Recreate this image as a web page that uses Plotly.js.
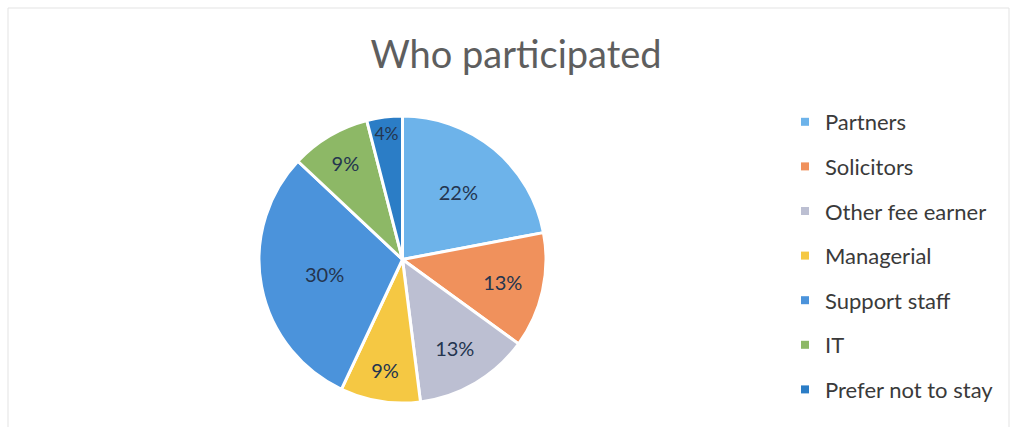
<!DOCTYPE html>
<html>
<head>
<meta charset="utf-8">
<script src="https://cdn.plot.ly/plotly-3.0.1.min.js"></script>
<style>html,body{margin:0;padding:0;background:#fff;}#chart{width:1012px;height:427px;}</style>
</head>
<body>
<div id="chart"></div>
<script>
const categories = ["Partners", "Solicitors", "Other fee earner", "Managerial", "Support staff", "IT", "Prefer not to stay"];
const values = [22, 13, 13, 9, 30, 9, 4];
const colors = ["#6db3ea", "#f0915c", "#bcbfd2", "#f5c843", "#4b93db", "#8db866", "#2b7dc6"];

const W = 1012, H = 427;
const traces = [{
  type: "pie",
  labels: categories,
  values: values,
  sort: false,
  direction: "clockwise",
  rotation: 0,
  marker: {colors: colors, line: {color: "#ffffff", width: 3}},
  textinfo: "percent",
  textposition: "inside",
  insidetextorientation: "horizontal",
  textfont: {family: "Lato, 'Open Sans', sans-serif", size: 20, color: "#24354f"},
  showlegend: false,
  hoverinfo: "label+percent",
  domain: {x: [259/W, 546/W], y: [(H-403)/H, (H-116)/H]}
}];
categories.forEach((c, i) => {
  traces.push({
    type: "scatter", mode: "markers", x: [null], y: [null],
    name: c, legendgroup: "g" + i,
    marker: {symbol: "square", size: 8, color: colors[i]},
    xaxis: "x", yaxis: "y", hoverinfo: "skip"
  });
});

const layout = {
  width: W, height: H,
  margin: {l: 0, r: 0, t: 0, b: 0},
  paper_bgcolor: "#ffffff",
  plot_bgcolor: "#ffffff",
  title: {text: "Who participated", x: 516/W, xanchor: "center", y: 1 - 55/H, yanchor: "middle",
          font: {family: "Lato, 'Open Sans', sans-serif", size: 38, color: "#5e5e5e"}},
  xaxis: {visible: false, domain: [0.9, 1]},
  yaxis: {visible: false, domain: [0.9, 1]},
  legend: {x: 785/W, xanchor: "left", y: 1 - 101/H, yanchor: "top",
           font: {family: "Lato, 'Open Sans', sans-serif", size: 22, color: "#3a3a3a"},
           tracegroupgap: 13, bgcolor: "rgba(0,0,0,0)"},
  shapes: [{type: "rect", xref: "paper", yref: "paper", x0: 8/W, x1: 1009/W, y0: -0.01, y1: 1 - 8/H,
            line: {color: "#e3e3e3", width: 1}}]
};
Plotly.newPlot("chart", traces, layout, {displayModeBar: false, staticPlot: true});
</script>
</body>
</html>
